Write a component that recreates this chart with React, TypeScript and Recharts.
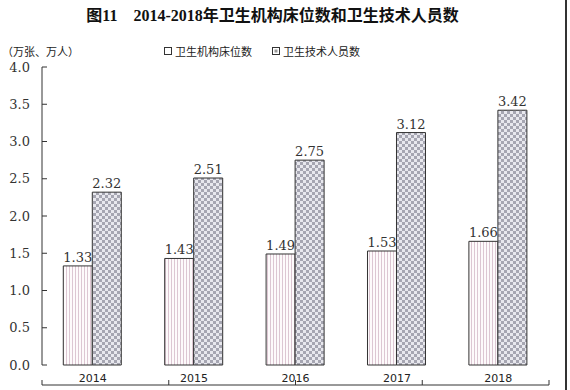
import { BarChart, Bar, XAxis, YAxis, LabelList } from "recharts";

const years = ["2014", "2015", "2016", "2017", "2018"];
const beds = [1.33, 1.43, 1.49, 1.53, 1.66];
const staff = [2.32, 2.51, 2.75, 3.12, 3.42];
const yTicks = [0, 0.5, 1, 1.5, 2, 2.5, 3, 3.5, 4];
const slotTicks = [0, 1, 2, 3, 4, 5];

const data = years.map((y, i) => ({ year: y, beds: beds[i], staff: staff[i] }));

const serif = "'DejaVu Serif', 'Liberation Serif', serif";
const cjk = "'Noto Sans CJK SC', sans-serif";

export default function App() {
  return (
    <div style={{ position: "absolute", left: 0, top: 0, width: 570, height: 390, background: "#fff", overflow: "hidden" }}>
      <div
        style={{
          position: "absolute",
          left: 0,
          width: 545,
          top: 2,
          textAlign: "center",
          fontFamily: "'Liberation Serif', 'Noto Sans CJK SC', serif",
          fontWeight: "bold",
          fontSize: 16,
          color: "#111",
          whiteSpace: "pre"
        }}
      >
        {"图11    2014-2018年卫生机构床位数和卫生技术人员数"}
      </div>
      <div style={{ position: "absolute", left: 2, top: 43, fontFamily: cjk, fontSize: 11, color: "#222" }}>
        （万张、万人）
      </div>
      <div style={{ position: "absolute", left: 164, top: 43, fontFamily: cjk, fontSize: 11, color: "#222", display: "flex", gap: 20 }}>
        <span style={{ display: "flex", alignItems: "center", gap: 3 }}>
          <svg width={8} height={8}><rect x={0.5} y={0.5} width={7} height={7} fill="#fff" stroke="#333" /></svg>
          卫生机构床位数
        </span>
        <span style={{ display: "flex", alignItems: "center", gap: 3 }}>
          <svg width={8} height={8}>
            <rect x={0.5} y={0.5} width={7} height={7} fill="#fff" stroke="#333" />
            <rect x={2.5} y={2.5} width={3} height={3} fill="#999" />
          </svg>
          卫生技术人员数
        </span>
      </div>
      <div style={{ position: "absolute", left: 565, top: 0, width: 2, height: 390, background: "#333" }} />
      <BarChart
        width={570}
        height={390}
        data={data}
        margin={{ top: 67, right: 21, bottom: 4, left: 12 }}
        barCategoryGap="21%"
        barGap={0}
      >
        <defs>
          <pattern id="stripes" width={3} height={4} patternUnits="userSpaceOnUse">
            <rect width={3} height={4} fill="#fdfafb" />
            <rect x={0} width={1} height={4} fill="#dcc6d2" />
          </pattern>
          <pattern id="checks" width={6} height={6} patternUnits="userSpaceOnUse">
            <rect width={6} height={6} fill="#e8e8ee" />
            <rect x={0} y={0} width={3} height={3} fill="#a6a6b2" />
            <rect x={3} y={3} width={3} height={3} fill="#a6a6b2" />
          </pattern>
        </defs>
        <XAxis
          xAxisId="slots"
          type="number"
          domain={[0, 5]}
          ticks={slotTicks}
          height={1}
          tick={() => <g />}
          tickSize={-5}
          stroke="#333"
          allowDataOverflow
        />
        <XAxis
          dataKey="year"
          height={20}
          axisLine={false}
          tickLine={false}
          tick={{ fontSize: 11, fill: "#222", fontFamily: "'DejaVu Sans', sans-serif" }}
          tickMargin={3}
        />
        <YAxis
          domain={[0, 4]}
          ticks={yTicks}
          width={30}
          stroke="#333"
          tickSize={-5}
          tickMargin={17}
          tickFormatter={(v: number) => v.toFixed(1)}
          tick={{ fontSize: 13, fill: "#333", fontFamily: serif }}
        />
        <Bar dataKey="beds" fill="url(#stripes)" stroke="#333" strokeWidth={1} isAnimationActive={false}>
          <LabelList dataKey="beds" position="top" offset={4} style={{ fontSize: 13, fill: "#333", fontFamily: serif }} />
        </Bar>
        <Bar dataKey="staff" fill="url(#checks)" stroke="#333" strokeWidth={1} isAnimationActive={false}>
          <LabelList dataKey="staff" position="top" offset={4} style={{ fontSize: 13, fill: "#333", fontFamily: serif }} />
        </Bar>
      </BarChart>
    </div>
  );
}
